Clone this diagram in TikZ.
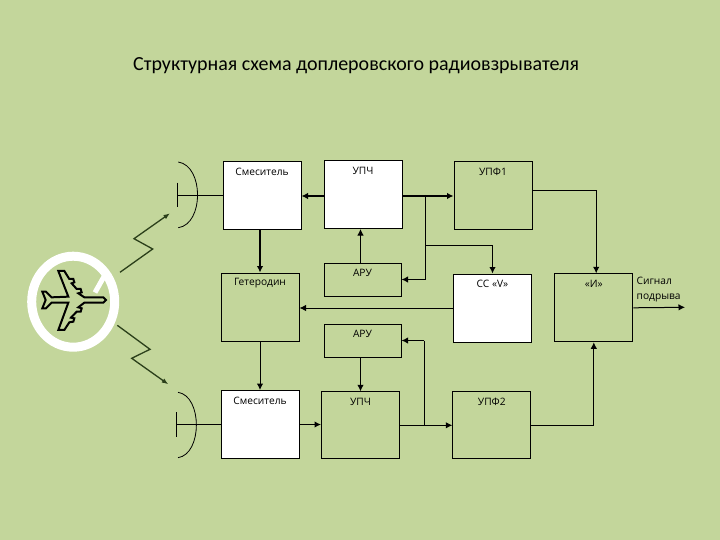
\documentclass[tikz,border=0pt]{standalone}
\usepackage{fontspec}
\setmainfont{Carlito}
\newfontfamily\boxfont{Open Sans}
\usepackage{xcolor}
\usetikzlibrary{arrows.meta}
\definecolor{slidegreen}{HTML}{C3D69B}
\definecolor{waveline}{HTML}{2B3F1A}
\tikzset{
  whitebox/.style={draw=black,line width=1pt,fill=white,anchor=north west,inner sep=0pt},
  greenbox/.style={draw=black,line width=1pt,anchor=north west,inner sep=0pt},
  tallbox/.style={minimum width=78pt,minimum height=68pt},
  lowbox/.style={minimum width=77pt,minimum height=33pt},
  boxtext/.style={yshift=-10.5pt,font=\boxfont\fontsize{10.2}{12}\selectfont,inner sep=0pt},
  thinarrow/.style={line width=1pt,-{Latex[length=6.5pt,width=6.5pt]}},
  thickarrow/.style={line width=1.7pt,-{Latex[length=6.5pt,width=6.5pt]}},
  thinline/.style={line width=1pt},
  waveline/.style={draw=waveline,line width=1.3pt,-{Latex[length=6.5pt,width=5pt]}}
}
\begin{document}
\begin{tikzpicture}[x=1pt,y=-1pt]
\useasboundingbox[fill=slidegreen] (0,0) rectangle (720,540);
% title
\node[anchor=west,inner sep=0pt,font=\fontsize{20}{22}\selectfont] (title) at (133,65.5) {Структурная схема доплеровского радиовзрывателя};
% top row
\node[whitebox,tallbox] (smes1) at (222.5,161.5) {};
\node[whitebox,tallbox] (upch1) at (323.5,160) {};
\node[greenbox,tallbox] (upf1) at (453.5,161.5) {};
% middle row
\node[greenbox,tallbox] (het) at (220.5,272.5) {};
\node[greenbox,lowbox] (aru1) at (323.5,262.5) {};
\node[whitebox,tallbox] (ccv) at (453,273.5) {};
\node[greenbox,tallbox] (andb) at (554.3,273.3) {};
\node[greenbox,lowbox] (aru2) at (323.5,323.5) {};
% bottom row
\node[whitebox,tallbox] (smes2) at (220.5,390) {};
\node[greenbox,tallbox,minimum height=67pt] (upch2) at (321,391.3) {};
\node[greenbox,tallbox,minimum height=67pt] (upf2) at (452.3,391.3) {};
% labels inside the boxes
\node[boxtext] (smes1t) at (smes1.north) {Смеситель};
\node[boxtext] (upch1t) at (upch1.north) {УПЧ};
\node[boxtext] (upf1t) at (upf1.north) {УПФ1};
\node[boxtext] (hett) at (het.north) {Гетеродин};
\node[boxtext] (aru1t) at (aru1.north) {АРУ};
\node[boxtext] (ccvt) at (ccv.north) {СС «V»};
\node[boxtext] (andbt) at (andb.north) {«И»};
\node[boxtext] (aru2t) at (aru2.north) {АРУ};
\node[boxtext] (smes2t) at (smes2.north) {Смеситель};
\node[boxtext] (upch2t) at (upch2.north) {УПЧ};
\node[boxtext] (upf2t) at (upf2.north) {УПФ2};
\node[boxtext,yshift=10.5pt,anchor=north west,align=left] (signal) at (636.5,277) {Сигнал\\[3pt]подрыва};
% top channel
\coordinate (br1) at (425.3,195);
\coordinate (br2) at (425.3,245.3);
\draw[thickarrow] (upch1.west |- smes1.east) -- (smes1.east);
\draw[thickarrow] (upch1.east |- upf1.west) -- (upf1.west);
\draw[thinline] (br1) -- (br1 |- aru1.east);
\draw[thickarrow] (br1 |- aru1.east) -- (aru1.east);
\draw[thinline] (br2) -- (br2 -| ccv.north);
\draw[thickarrow] (br2 -| ccv.north) -- (ccv.north);
\draw[thinarrow] ([xshift=-2pt]aru1.north) -- ([xshift=-2pt]aru1.north |- upch1.south);
\draw[thinarrow] (ccv.west) -- (ccv.west -| het.east);
\draw[thickarrow] (het.north |- smes1.south) -- (het.north);
\draw[thinarrow] (het.south) -- (het.south |- smes2.north);
% bottom channel
\coordinate (br3) at (424.3,424.8);
\draw[thinarrow] (upch2.north |- aru2.south) -- (upch2.north);
\draw[thickarrow] (smes2.east) -- (smes2.east -| upch2.west);
\draw[thinarrow] (upch2.east) -- (upf2.west);
\draw[thinline] (br3) -- (br3 |- aru2.east);
\draw[thickarrow] (br3 |- aru2.east) -- (aru2.east);
% to the coincidence stage and out
\coordinate (out) at (685,307.3);
\draw[thinarrow] ([yshift=5.7pt]upf1.east) -| ([xshift=2.4pt]andb.north);
\draw[thinarrow] (upf2.east) -| (andb.south);
\draw[thinarrow] (andb.east) -- (out);
% antennas
\coordinate (ant1) at (177.3,195.5);
\coordinate (ant2) at (176.3,424.1);
\draw[thinline] (smes1.west) -- (smes1.west -| ant1);
\draw[thinline] (ant1 |- 0,182.7) -- (ant1 |- 0,207.3);
\draw[line width=0.8pt] (178.3,162) .. controls (204,166) and (204,224) .. (178.3,227.7);
\draw[thinline] (smes2.west) -- (smes2.west -| ant2);
\draw[thinline] (ant2 |- 0,412.3) -- (ant2 |- 0,437.3);
\draw[line width=0.8pt] (178,392.3) .. controls (202.5,396) and (202.5,454) .. (178,457.7);
% target ring
\draw[white,line width=9pt] (73.2,301.7) ellipse [x radius=41.5,y radius=45.5];
\draw[white,line width=5pt] (95,292.5) -- (106,273);
% waves
\draw[waveline] (120,272.3) -- (152.7,249) -- (134,238.7) -- (170,213.3);
\draw[waveline] (117.3,325.3) -- (150,349.3) -- (131.7,358.3) -- (168.3,384.3);
% plane
\begin{scope}[shift={(35,265)},x=0.3333pt,y=-0.3333pt]
\draw[line width=2pt,line join=miter,black] (213,105) -- (205,97) -- (148,97) -- (130,85) -- (140,82) -- (137,72) -- (125,72) -- (110,55) -- (118,52) -- (115,42) -- (103,42) -- (88,18) -- (70,18) -- (100,95) -- (50,97) -- (33,80) -- (22,80) -- (32,105) -- (22,130) -- (33,130) -- (50,113) -- (100,113) -- (70,195) -- (88,195) -- (103,172) -- (115,170) -- (118,160) -- (108,158) -- (125,140) -- (137,140) -- (140,130) -- (130,127) -- (148,113) -- (205,113) -- cycle;
\end{scope}
\end{tikzpicture}
\end{document}
